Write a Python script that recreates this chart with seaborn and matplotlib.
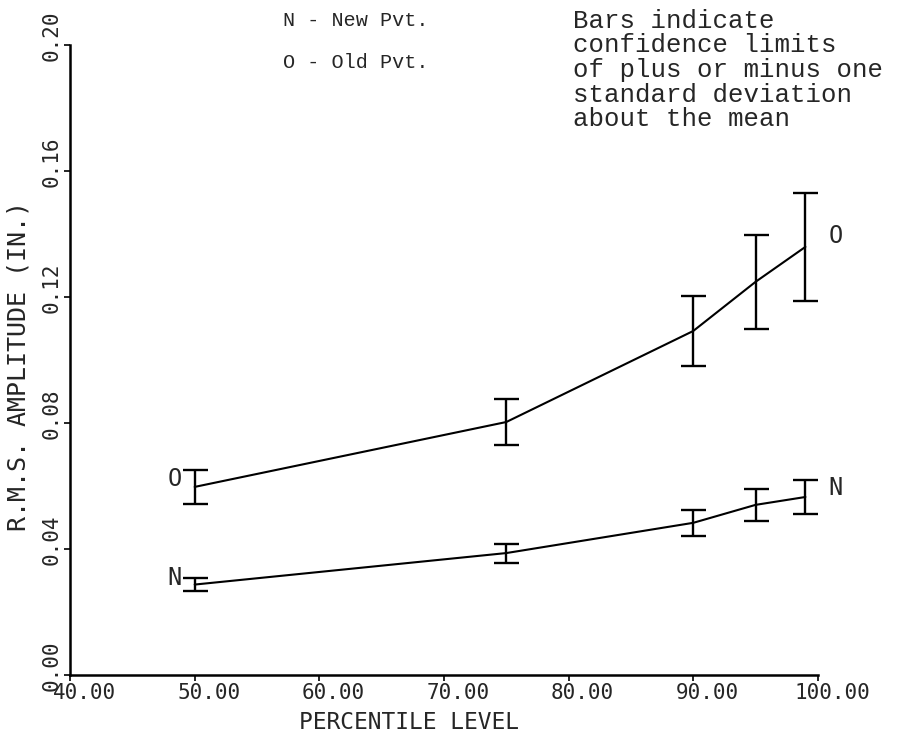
import matplotlib
matplotlib.use("Agg")
import matplotlib.pyplot as plt
import matplotlib.transforms as mtransforms
import seaborn as sns
import pandas as pd

# Data
percentile = [50, 75, 90, 95, 99]
new_mean = [0.0287, 0.0387, 0.0483, 0.0540, 0.0565]
new_sd = [0.0021, 0.0030, 0.0042, 0.0051, 0.0053]
old_mean = [0.0597, 0.0803, 0.1092, 0.1248, 0.1359]
old_sd = [0.0054, 0.0073, 0.0112, 0.0150, 0.0172]

x_ticks = [40, 50, 60, 70, 80, 90, 100]
x_ticklabels = ["40.00", "50.00", "60.00", "70.00", "80.00", "90.00", "100.00"]
y_ticks = [0.00, 0.04, 0.08, 0.12, 0.16, 0.20]
y_ticklabels = ["0.00", "0.04", "0.08", "0.12", "0.16", "0.20"]

sns.set_style("ticks")
plot_font = ["DejaVu Sans Mono"]
type_font = ["Liberation Mono", "DejaVu Sans Mono"]
plt.rcParams["font.family"] = plot_font

fig = plt.figure(figsize=(9.12, 7.38), dpi=100)
ax = fig.add_axes([0.0768, 0.0854, 0.820, 0.8537])

df = pd.DataFrame({
    "x": percentile * 2,
    "y": new_mean + old_mean,
    "sd": new_sd + old_sd,
    "series": ["N"] * len(percentile) + ["O"] * len(percentile),
})

sns.lineplot(data=df, x="x", y="y", units="series", estimator=None,
             color="black", linewidth=1.5, ax=ax, legend=False)
ax.errorbar(df["x"], df["y"], yerr=df["sd"], fmt="none", ecolor="black",
            elinewidth=1.7, capsize=9, capthick=1.7)

ax.set_xlim(40, 100)
ax.set_ylim(0, 0.20)
ax.set_xticks(x_ticks)
ax.set_xticklabels(x_ticklabels, fontsize=15)
ax.set_yticks(y_ticks)
ax.set_yticklabels(y_ticklabels, fontsize=15, rotation=90, va="center")
ax.tick_params(axis="both", direction="out", length=4, width=1.2, color="black")
ax.tick_params(axis="y", pad=2)
ax.tick_params(axis="x", pad=2)

# plotter-style label offsets (x labels sit right of ticks, y labels above)
x_shift = mtransforms.ScaledTranslation(0.14, 0, fig.dpi_scale_trans)
y_shift = mtransforms.ScaledTranslation(0, 0.09, fig.dpi_scale_trans)
for lab in ax.get_xticklabels():
    lab.set_transform(lab.get_transform() + x_shift)
for lab in ax.get_yticklabels():
    lab.set_transform(lab.get_transform() + y_shift)

for s in ["top", "right"]:
    ax.spines[s].set_visible(False)
for s in ["left", "bottom"]:
    ax.spines[s].set_linewidth(1.8)
    ax.spines[s].set_color("black")

ax.set_xlabel("PERCENTILE LEVEL", fontsize=16.5)
ax.xaxis.set_label_coords(0.453, -0.057)
ax.set_ylabel("R.M.S. AMPLITUDE (IN.)", fontsize=18)
ax.yaxis.set_label_coords(-0.053, 0.49)

# Series labels next to first and last points
lab_kw = dict(textcoords="offset points", ha="center", va="center", fontsize=17)
ax.annotate("O", (percentile[0], old_mean[0]), xytext=(-14.5, 6), **lab_kw)
ax.annotate("N", (percentile[0], new_mean[0]), xytext=(-14.5, 4.5), **lab_kw)
ax.annotate("O", (percentile[-1], old_mean[-1]), xytext=(21.5, 8), **lab_kw)
ax.annotate("N", (percentile[-1], new_mean[-1]), xytext=(21.5, 6.5), **lab_kw)

# Key text
fig.text(283 / 912, 1 - 20 / 738, "N - New Pvt.", family=type_font, fontsize=14.5,
         ha="left", va="center")
fig.text(283 / 912, 1 - 62 / 738, "O - Old Pvt.", family=type_font, fontsize=14.5,
         ha="left", va="center")
note_lines = ["Bars indicate", "confidence limits", "of plus or minus one",
              "standard deviation", "about the mean"]
for i, line in enumerate(note_lines):
    fig.text(573 / 912, 1 - (21 + 24.5 * i) / 738, line, family=type_font,
             fontsize=18.5, ha="left", va="center")

fig.savefig("out.png", dpi=100, facecolor="white")
